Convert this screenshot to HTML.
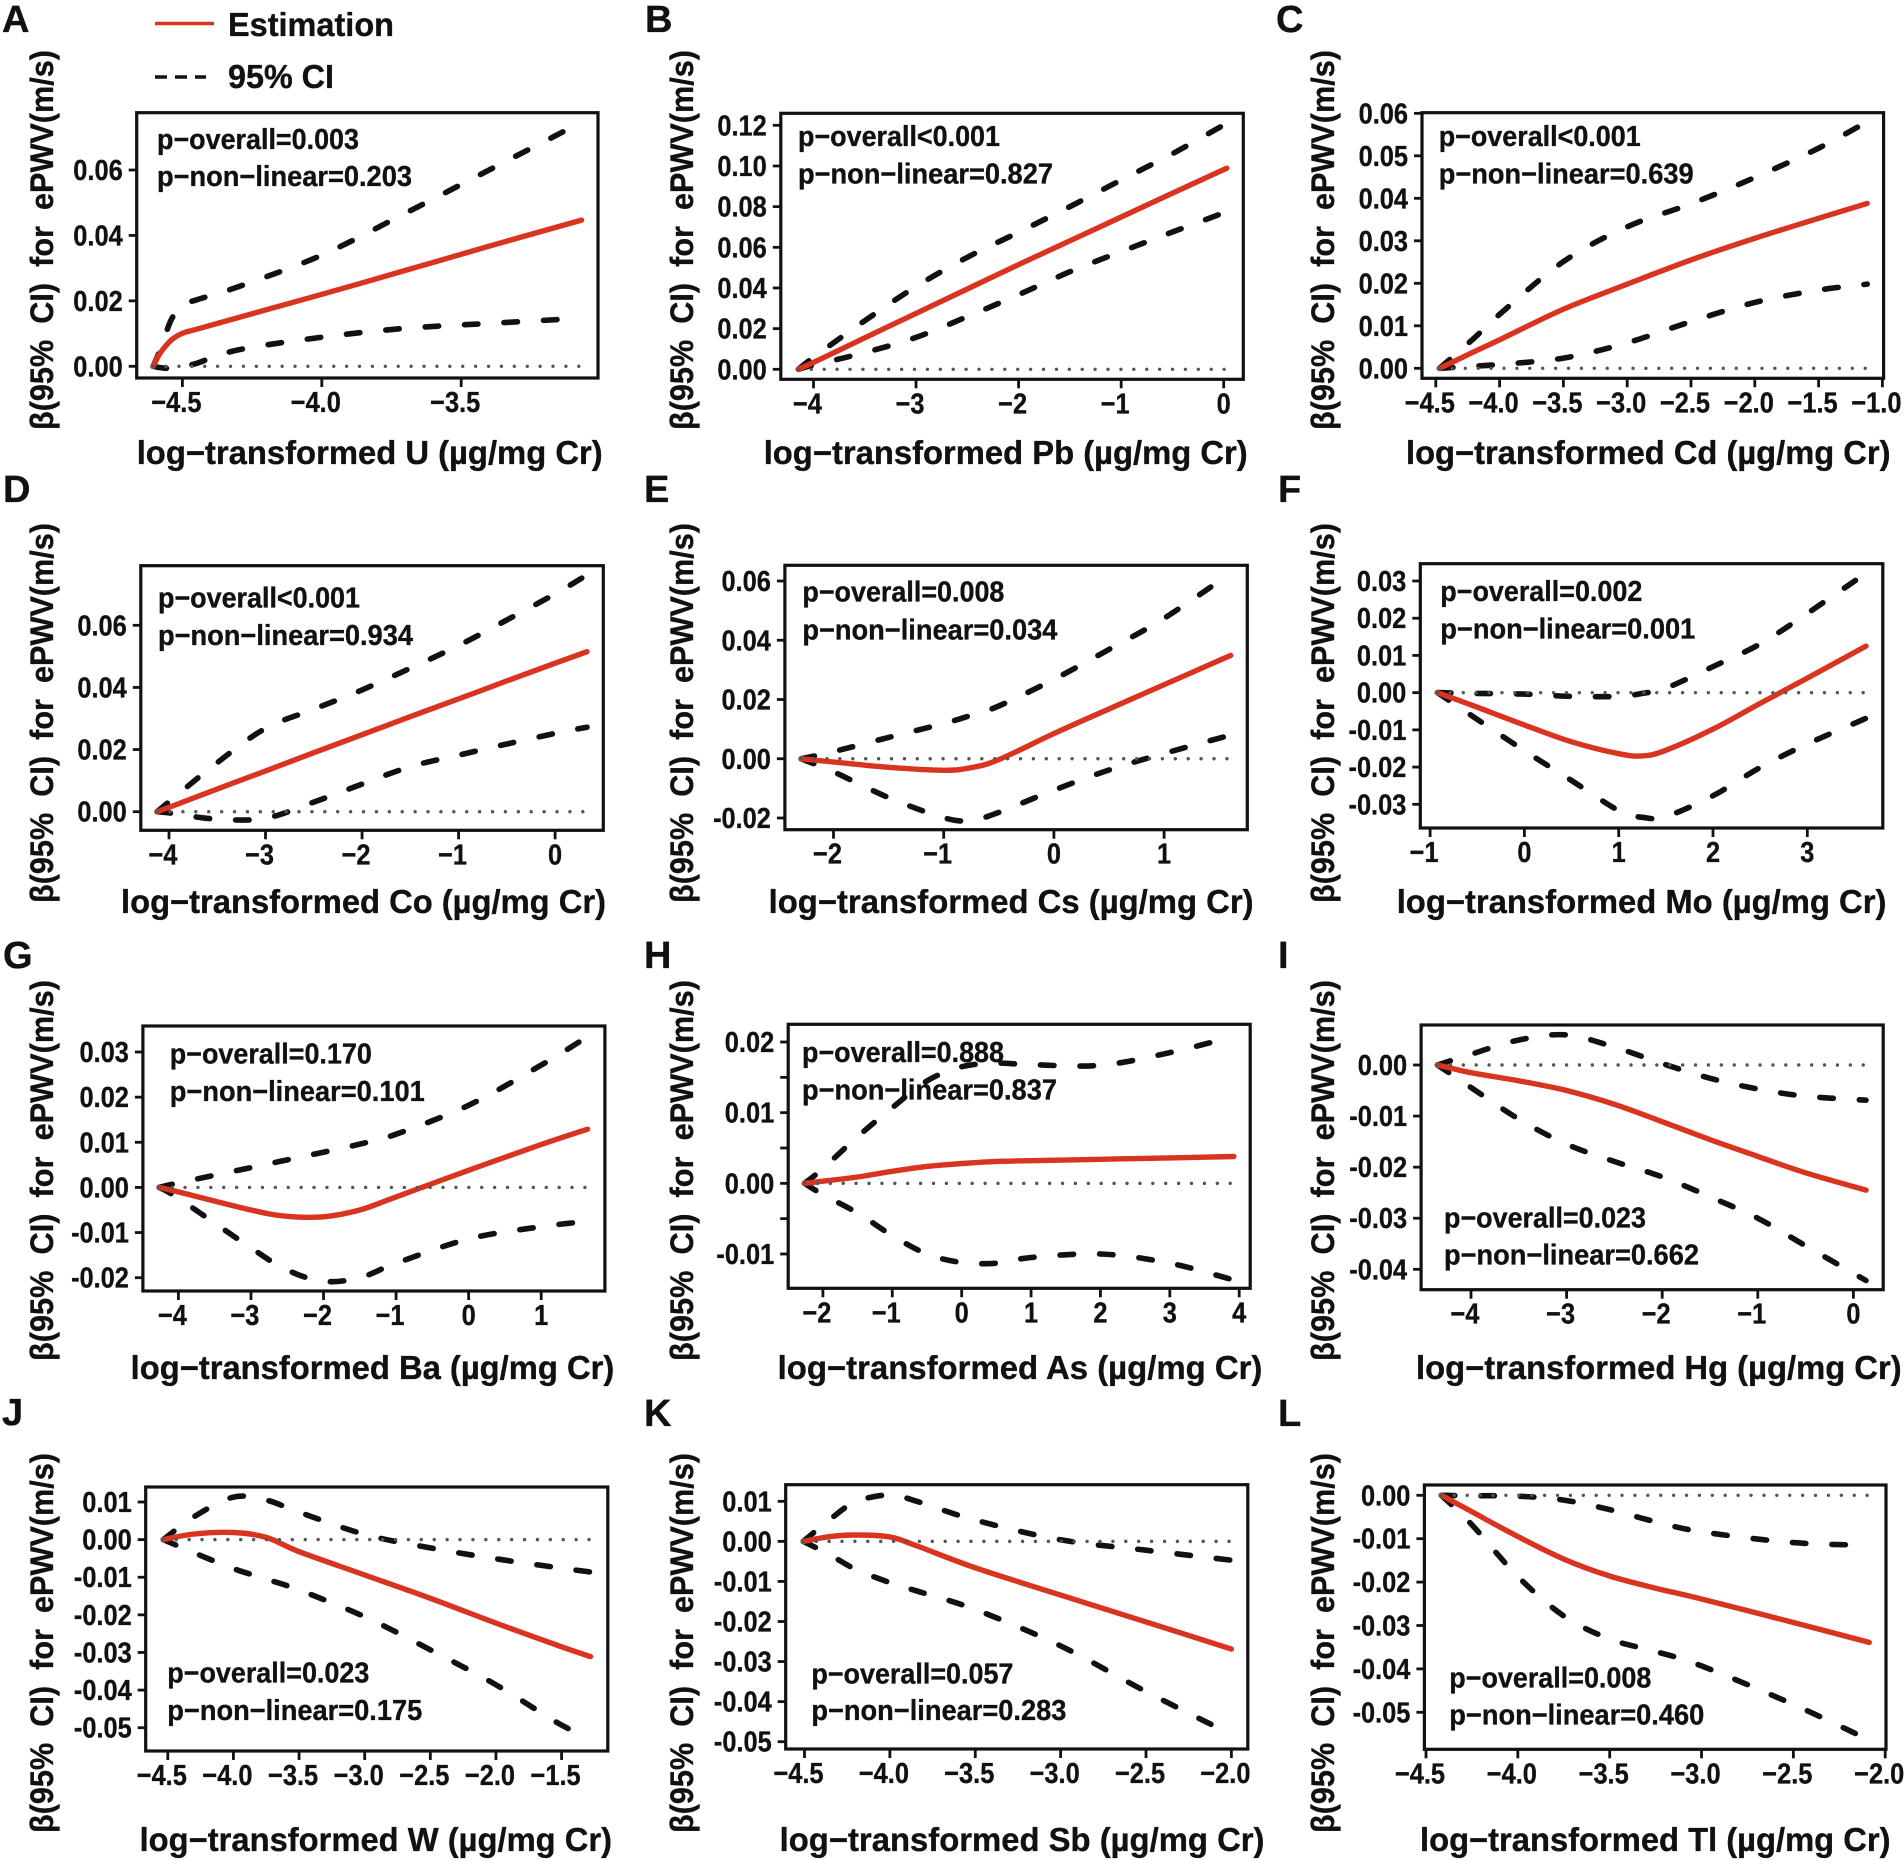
<!DOCTYPE html>
<html lang="en">
<head>
<meta charset="utf-8">
<title>Dose-response curves of urinary metals and ePWV</title>
<style>
html,body{margin:0;padding:0;background:#fff;}
svg{display:block;}
text{font-family:"Liberation Sans",Arial,sans-serif;font-weight:bold;fill:#111;stroke:#111;stroke-width:.35px;}
.letter{font-size:38px;}
.xt{font-size:33px;transform:translateY(1px);}
.yt{font-size:32.5px;}
.p{font-size:28.5px;transform:translateY(1px);}
.leg{font-size:33px;transform:translateY(1px);}
.tick{font-size:29px;}
.wide{word-spacing:8px;}
</style>
</head>
<body>
<svg id="figure" xmlns="http://www.w3.org/2000/svg" width="1904" height="1860" viewBox="0 0 1904 1860">
<rect width="1904" height="1860" fill="#fff"/>
<g>
  <line x1="155" y1="23.5" x2="214" y2="23.5" stroke="#d9341f" stroke-width="3.5"/>
  <text class="leg" x="228" y="35" textLength="166" lengthAdjust="spacingAndGlyphs">Estimation</text>
  <line x1="155" y1="77" x2="206" y2="77" stroke="#111" stroke-width="3.5" stroke-dasharray="12 8"/>
  <text class="leg" x="228" y="87" textLength="106" lengthAdjust="spacingAndGlyphs">95% CI</text>
</g>

<g id="panel-a">
  <text class="letter" x="2" y="32">A</text>
  <text class="yt wide" transform="translate(53,430) rotate(-90)" textLength="380" lengthAdjust="spacingAndGlyphs">β(95%&#160;CI) for ePWV(m/s)</text>
  <text class="xt" x="136.7" y="463" textLength="466" lengthAdjust="spacingAndGlyphs">log−transformed U (µg/mg Cr)</text>
  <text class="p" x="157" y="148" textLength="202" lengthAdjust="spacingAndGlyphs">p−overall=0.003</text>
  <text class="p" x="157" y="185" textLength="255" lengthAdjust="spacingAndGlyphs">p−non−linear=0.203</text>
</g>
<g id="panel-b">
  <text class="letter" x="645" y="32">B</text>
  <text class="yt wide" transform="translate(693,430) rotate(-90)" textLength="380" lengthAdjust="spacingAndGlyphs">β(95%&#160;CI) for ePWV(m/s)</text>
  <text class="xt" x="763.7" y="463" textLength="484" lengthAdjust="spacingAndGlyphs">log−transformed Pb (µg/mg Cr)</text>
  <text class="p" x="798" y="145" textLength="202" lengthAdjust="spacingAndGlyphs">p−overall&lt;0.001</text>
  <text class="p" x="798" y="182.7" textLength="255" lengthAdjust="spacingAndGlyphs">p−non−linear=0.827</text>
</g>
<g id="panel-c">
  <text class="letter" x="1276" y="32">C</text>
  <text class="yt wide" transform="translate(1334,430) rotate(-90)" textLength="380" lengthAdjust="spacingAndGlyphs">β(95%&#160;CI) for ePWV(m/s)</text>
  <text class="xt" x="1406" y="463" textLength="484.5" lengthAdjust="spacingAndGlyphs">log−transformed Cd (µg/mg Cr)</text>
  <text class="p" x="1438.7" y="145" textLength="202" lengthAdjust="spacingAndGlyphs">p−overall&lt;0.001</text>
  <text class="p" x="1438.7" y="182.3" textLength="255" lengthAdjust="spacingAndGlyphs">p−non−linear=0.639</text>
</g>
<g id="panel-d">
  <text class="letter" x="3" y="502">D</text>
  <text class="yt wide" transform="translate(53,903) rotate(-90)" textLength="380" lengthAdjust="spacingAndGlyphs">β(95%&#160;CI) for ePWV(m/s)</text>
  <text class="xt" x="121" y="912" textLength="485" lengthAdjust="spacingAndGlyphs">log−transformed Co (µg/mg Cr)</text>
  <text class="p" x="158" y="606.7" textLength="202" lengthAdjust="spacingAndGlyphs">p−overall&lt;0.001</text>
  <text class="p" x="158" y="644" textLength="255" lengthAdjust="spacingAndGlyphs">p−non−linear=0.934</text>
</g>
<g id="panel-e">
  <text class="letter" x="644" y="502">E</text>
  <text class="yt wide" transform="translate(693,903) rotate(-90)" textLength="380" lengthAdjust="spacingAndGlyphs">β(95%&#160;CI) for ePWV(m/s)</text>
  <text class="xt" x="768.6" y="912" textLength="485" lengthAdjust="spacingAndGlyphs">log−transformed Cs (µg/mg Cr)</text>
  <text class="p" x="802.4" y="600.7" textLength="202" lengthAdjust="spacingAndGlyphs">p−overall=0.008</text>
  <text class="p" x="802.4" y="638.3" textLength="255" lengthAdjust="spacingAndGlyphs">p−non−linear=0.034</text>
</g>
<g id="panel-f">
  <text class="letter" x="1278" y="502">F</text>
  <text class="yt wide" transform="translate(1334,903) rotate(-90)" textLength="380" lengthAdjust="spacingAndGlyphs">β(95%&#160;CI) for ePWV(m/s)</text>
  <text class="xt" x="1396.7" y="912" textLength="489.7" lengthAdjust="spacingAndGlyphs">log−transformed Mo (µg/mg Cr)</text>
  <text class="p" x="1440.3" y="600" textLength="202" lengthAdjust="spacingAndGlyphs">p−overall=0.002</text>
  <text class="p" x="1440.3" y="637.7" textLength="255" lengthAdjust="spacingAndGlyphs">p−non−linear=0.001</text>
</g>
<g id="panel-g">
  <text class="letter" x="3" y="968">G</text>
  <text class="yt wide" transform="translate(53,1361) rotate(-90)" textLength="381" lengthAdjust="spacingAndGlyphs">β(95%&#160;CI) for ePWV(m/s)</text>
  <text class="xt" x="130.6" y="1378" textLength="483.7" lengthAdjust="spacingAndGlyphs">log−transformed Ba (µg/mg Cr)</text>
  <text class="p" x="169.8" y="1062.7" textLength="202" lengthAdjust="spacingAndGlyphs">p−overall=0.170</text>
  <text class="p" x="169.8" y="1100" textLength="255" lengthAdjust="spacingAndGlyphs">p−non−linear=0.101</text>
</g>
<g id="panel-h">
  <text class="letter" x="644" y="968">H</text>
  <text class="yt wide" transform="translate(693,1361) rotate(-90)" textLength="381" lengthAdjust="spacingAndGlyphs">β(95%&#160;CI) for ePWV(m/s)</text>
  <text class="xt" x="777.6" y="1378" textLength="484.8" lengthAdjust="spacingAndGlyphs">log−transformed As (µg/mg Cr)</text>
  <text class="p" x="802" y="1061" textLength="202" lengthAdjust="spacingAndGlyphs">p−overall=0.888</text>
  <text class="p" x="802" y="1098.3" textLength="255" lengthAdjust="spacingAndGlyphs">p−non−linear=0.837</text>
</g>
<g id="panel-i">
  <text class="letter" x="1278" y="968">I</text>
  <text class="yt wide" transform="translate(1334,1361) rotate(-90)" textLength="381" lengthAdjust="spacingAndGlyphs">β(95%&#160;CI) for ePWV(m/s)</text>
  <text class="xt" x="1416" y="1378" textLength="485.6" lengthAdjust="spacingAndGlyphs">log−transformed Hg (µg/mg Cr)</text>
  <text class="p" x="1444" y="1226.7" textLength="202" lengthAdjust="spacingAndGlyphs">p−overall=0.023</text>
  <text class="p" x="1444" y="1263.3" textLength="255" lengthAdjust="spacingAndGlyphs">p−non−linear=0.662</text>
</g>
<g id="panel-j">
  <text class="letter" x="2" y="1425">J</text>
  <text class="yt wide" transform="translate(53,1833) rotate(-90)" textLength="380" lengthAdjust="spacingAndGlyphs">β(95%&#160;CI) for ePWV(m/s)</text>
  <text class="xt" x="139.6" y="1850" textLength="472.4" lengthAdjust="spacingAndGlyphs">log−transformed W (µg/mg Cr)</text>
  <text class="p" x="167.3" y="1681.7" textLength="202" lengthAdjust="spacingAndGlyphs">p−overall=0.023</text>
  <text class="p" x="167.3" y="1719" textLength="255" lengthAdjust="spacingAndGlyphs">p−non−linear=0.175</text>
</g>
<g id="panel-k">
  <text class="letter" x="644" y="1426">K</text>
  <text class="yt wide" transform="translate(693,1833) rotate(-90)" textLength="380" lengthAdjust="spacingAndGlyphs">β(95%&#160;CI) for ePWV(m/s)</text>
  <text class="xt" x="779.6" y="1850" textLength="484.9" lengthAdjust="spacingAndGlyphs">log−transformed Sb (µg/mg Cr)</text>
  <text class="p" x="811.4" y="1682.3" textLength="202" lengthAdjust="spacingAndGlyphs">p−overall=0.057</text>
  <text class="p" x="811.4" y="1719" textLength="255" lengthAdjust="spacingAndGlyphs">p−non−linear=0.283</text>
</g>
<g id="panel-l">
  <text class="letter" x="1278" y="1426">L</text>
  <text class="yt wide" transform="translate(1334,1833) rotate(-90)" textLength="380" lengthAdjust="spacingAndGlyphs">β(95%&#160;CI) for ePWV(m/s)</text>
  <text class="xt" x="1420" y="1850" textLength="470.5" lengthAdjust="spacingAndGlyphs">log−transformed Tl (µg/mg Cr)</text>
  <text class="p" x="1449.3" y="1686.7" textLength="202" lengthAdjust="spacingAndGlyphs">p−overall=0.008</text>
  <text class="p" x="1449.3" y="1723.3" textLength="255" lengthAdjust="spacingAndGlyphs">p−non−linear=0.460</text>
</g>
</svg>
<script>
// Panel A: U
const A_x   = [-4.605,-4.58,-4.54,-4.5,-4.45,-4.3,-4.0,-3.7,-3.4,-3.068];
const A_est = [0,.004,.008,.0101,.0113,.0149,.022,.0293,.0367,.0447];
const A_up  = [0,.005,.0142,.0187,.0203,.0243,.034,.0468,.06,.0746];
const A_low = [0,-.0004,-.0007,-.0003,.0009,.005,.0089,.0116,.0131,.0147];
const A_xt  = [-4.5,-4,-3.5];
const A_xl  = ['−4.5','−4.0','−3.5'];
const A_yt  = [0,.02,.04,.06];
const A_yl  = ['0.00','0.02','0.04','0.06'];
// Panel B: Pb
const B_x   = [-4.147,-4,-3.5,-3,-2.5,-2,-1.5,-1,-.5,.03];
const B_est = [0,.0034,.0155,.0275,.0395,.0515,.0632,.0749,.0866,.0989];
const B_up  = [0,.0059,.0239,.0407,.0551,.0674,.08,.0931,.106,.121];
const B_low = [0,.0021,.0082,.0157,.0259,.0367,.048,.0579,.0675,.0775];
const B_xt  = [-4,-3,-2,-1,0];
const B_xl  = ['−4','−3','−2','−1','0'];
const B_yt  = [0,.02,.04,.06,.08,.1,.12];
const B_yl  = ['0.00','0.02','0.04','0.06','0.08','0.10','0.12'];
// Panel C: Cd
const C_x   = [-4.471,-4.2,-4,-3.5,-3,-2.5,-2,-1.5,-1.119];
const C_est = [0,.0039,.0067,.0139,.0198,.0255,.0306,.0353,.0388];
const C_up  = [0,.0071,.0127,.0251,.0333,.0387,.0449,.0518,.058];
const C_low = [0,.0005,.0009,.0024,.006,.011,.0155,.0184,.0198];
const C_xt  = [-4.5,-4,-3.5,-3,-2.5,-2,-1.5,-1];
const C_xl  = ['−4.5','−4.0','−3.5','−3.0','−2.5','−2.0','−1.5','−1.0'];
const C_yt  = [0,.01,.02,.03,.04,.05,.06];
const C_yl  = ['0.00','0.01','0.02','0.03','0.04','0.05','0.06'];
// Panel D: Co
const D_x   = [-4.123,-4,-3.5,-3,-2.5,-2,-1.5,-1,-.5,0,.33];
const D_est = [0,.0014,.0073,.0131,.019,.0248,.0306,.0363,.0421,.0478,.0515];
const D_up  = [0,.0032,.0158,.0268,.033,.0392,.0462,.0535,.0617,.0701,.0762];
const D_low = [0,-.0004,-.0024,-.0021,.0031,.0089,.0145,.0182,.0218,.0252,.0272];
const D_xt  = [-4,-3,-2,-1,0];
const D_xl  = ['−4','−3','−2','−1','0'];
const D_yt  = [0,.02,.04,.06];
const D_yl  = ['0.00','0.02','0.04','0.06'];
// Panel E: Cs
const E_x   = [-2.293,-2,-1.5,-1,-.75,-.5,0,.5,1,1.604];
const E_est = [0,-.0011,-.0029,-.0039,-.003,-.0003,.0085,.0168,.025,.0349];
const E_up  = [0,.0024,.0072,.0119,.0147,.0178,.0268,.0369,.0474,.0626];
const E_low = [0,-.0044,-.0131,-.0199,-.0208,-.0181,-.0106,-.0038,.0018,.008];
const E_xt  = [-2,-1,0,1];
const E_xl  = ['−2','−1','0','1'];
const E_yt  = [-.02,0,.02,.04,.06];
const E_yl  = ['-0.02','0.00','0.02','0.04','0.06'];
// Panel F: Mo
const F_x   = [-.922,-.5,0,.5,1,1.25,1.5,2,2.5,3,3.623];
const F_est = [0,-.0039,-.0087,-.0132,-.0164,-.017,-.0155,-.0098,-.0029,.0039,.0125];
const F_up  = [0,-.0002,-.0004,-.001,-.001,-.0002,.0012,.007,.0131,.0213,.0321];
const F_low = [0,-.0072,-.0156,-.0236,-.0317,-.0335,-.0333,-.0277,-.0201,-.0138,-.0069];
const F_xt  = [-1,0,1,2,3];
const F_xl  = ['−1','0','1','2','3'];
const F_yt  = [-.03,-.02,-.01,0,.01,.02,.03];
const F_yl  = ['-0.03','-0.02','-0.01','0.00','0.01','0.02','0.03'];
// Panel G: Ba
const G_x   = [-4.264,-4,-3,-2.5,-2,-1.5,-1,0,1,1.64];
const G_est = [0,-.001,-.005,-.0064,-.0065,-.005,-.0021,.0038,.0095,.0129];
const G_up  = [0,.001,.0044,.0061,.0078,.0096,.0118,.0182,.0271,.0334];
const G_low = [0,-.0024,-.0134,-.0183,-.0208,-.02,-.0168,-.0114,-.0087,-.0075];
const G_xt  = [-4,-3,-2,-1,0,1];
const G_xl  = ['−4','−3','−2','−1','0','1'];
const G_yt  = [-.02,-.01,0,.01,.02,.03];
const G_yl  = ['-0.02','-0.01','0.00','0.01','0.02','0.03'];
// Panel H: As
const H_x   = [-2.265,-2,-1.5,-1,-.5,0,.5,1,2,3,3.924];
const H_est = [0,.0003,.0009,.0017,.0024,.0028,.0031,.0032,.0034,.0036,.0038];
const H_up  = [0,.0021,.0066,.0107,.0145,.0165,.017,.0168,.0167,.0185,.0208];
const H_low = [0,-.0016,-.0042,-.0074,-.01,-.0112,-.0113,-.0105,-.01,-.0113,-.0137];
const H_xt  = [-2,-1,0,1,2,3,4];
const H_xl  = ['−2','−1','0','1','2','3','4'];
const H_yt  = [-.01,-.005,0,.005,.01,.015,.02];
const H_yl  = ['-0.01','','0.00','','0.01','','0.02'];
// Panel I: Hg
const I_x   = [-4.35,-4,-3.5,-3,-2.5,-2,-1.5,-1,-.5,.132];
const I_est = [0,-.0015,-.0031,-.005,-.0077,-.0111,-.0146,-.0179,-.0211,-.0245];
const I_up  = [0,.0021,.0049,.0059,.0035,.0003,-.0026,-.0047,-.0061,-.0069];
const I_low = [0,-.0044,-.0106,-.0155,-.0189,-.0219,-.0258,-.03,-.0354,-.0422];
const I_xt  = [-4,-3,-2,-1,0];
const I_xl  = ['−4','−3','−2','−1','0'];
const I_yt  = [-.04,-.03,-.02,-.01,0];
const I_yl  = ['-0.04','-0.03','-0.02','-0.01','0.00'];
// Panel J: W
const J_x   = [-4.534,-4.3,-4,-3.75,-3.5,-3,-2.5,-2,-1.5,-1.28];
const J_est = [0,.0015,.0019,.0006,-.0032,-.0094,-.0156,-.0222,-.0285,-.0311];
const J_up  = [0,.0061,.0113,.0105,.0073,.0014,-.0022,-.0051,-.0076,-.0086];
const J_low = [0,-.0035,-.0077,-.0105,-.0134,-.0205,-.0293,-.0386,-.0493,-.0525];
const J_xt  = [-4.5,-4,-3.5,-3,-2.5,-2,-1.5];
const J_xl  = ['−4.5','−4.0','−3.5','−3.0','−2.5','−2.0','−1.5'];
const J_yt  = [-.05,-.04,-.03,-.02,-.01,0,.01];
const J_yl  = ['-0.05','-0.04','-0.03','-0.02','-0.01','0.00','0.01'];
// Panel K: Sb
const K_x   = [-4.507,-4.35,-4.2,-4,-3.85,-3.5,-3,-2.5,-2];
const K_est = [0,.0012,.0016,.0011,-.001,-.0066,-.0134,-.0201,-.0269];
const K_up  = [0,.0055,.0099,.0116,.0101,.0053,.0004,-.0022,-.0047];
const K_low = [0,-.0034,-.007,-.0103,-.0123,-.017,-.0261,-.0375,-.0482];
const K_xt  = [-4.5,-4,-3.5,-3,-2.5,-2];
const K_xl  = ['−4.5','−4.0','−3.5','−3.0','−2.5','−2.0'];
const K_yt  = [-.05,-.04,-.03,-.02,-.01,0,.01];
const K_yl  = ['-0.05','-0.04','-0.03','-0.02','-0.01','0.00','0.01'];
// Panel L: Tl
const L_x   = [-4.416,-4.25,-4,-3.75,-3.5,-3.25,-3,-2.5,-2.087];
const L_est = [0,-.0038,-.0095,-.0147,-.0186,-.0214,-.0239,-.0293,-.0339];
const L_up  = [0,-.0001,-.0002,-.0011,-.0033,-.0061,-.0084,-.0109,-.0115];
const L_low = [0,-.0068,-.0187,-.0278,-.0331,-.036,-.0393,-.0482,-.0564];
const L_xt  = [-4.5,-4,-3.5,-3,-2.5,-2];
const L_xl  = ['−4.5','−4.0','−3.5','−3.0','−2.5','−2.0'];
const L_yt  = [-.05,-.04,-.03,-.02,-.01,0];
const L_yl  = ['-0.05','-0.04','-0.03','-0.02','-0.01','0.00'];

const NS = 'http://www.w3.org/2000/svg';
const RED = '#d9341f';

function mk(tag, attrs, parent) {
  const el = document.createElementNS(NS, tag);
  for (const k in attrs) el.setAttribute(k, attrs[k]);
  parent.appendChild(el);
  return el;
}
function linear(d0, p0, d1, p1) {
  return v => p0 + (v - d0) * (p1 - p0) / (d1 - d0);
}
function condense(el) {
  el.setAttribute('textLength', (el.getComputedTextLength() * 0.875).toFixed(1));
  el.setAttribute('lengthAdjust', 'spacingAndGlyphs');
}
function smoothPath(xs, ys, sx, sy) {
  const pts = xs.map((x, i) => [sx(x), sy(ys[i])]);
  let d = 'M' + pts[0][0].toFixed(1) + ' ' + pts[0][1].toFixed(1);
  for (let i = 0; i < pts.length - 1; i++) {
    const p0 = pts[Math.max(i - 1, 0)], p1 = pts[i], p2 = pts[i + 1], p3 = pts[Math.min(i + 2, pts.length - 1)];
    const c1x = p1[0] + (p2[0] - p0[0]) / 6, c1y = p1[1] + (p2[1] - p0[1]) / 6;
    const c2x = p2[0] - (p3[0] - p1[0]) / 6, c2y = p2[1] - (p3[1] - p1[1]) / 6;
    d += 'C' + c1x.toFixed(1) + ' ' + c1y.toFixed(1) + ' ' + c2x.toFixed(1) + ' ' + c2y.toFixed(1) + ' ' + p2[0].toFixed(1) + ' ' + p2[1].toFixed(1);
  }
  return d;
}
function drawPanel(id, x, est, up, low, xt, xl, yt, yl, frame, xCal, yCal) {
  const g = document.getElementById('panel-' + id);
  const [L, T, R, B] = frame;
  const sx = linear(xCal[0], xCal[1], xCal[2], xCal[3]);
  const sy = linear(yCal[0], yCal[1], yCal[2], yCal[3]);

  xt.forEach((v, i) => {
    const tick = mk('line', {x1: sx(v), x2: sx(v), y1: B, y2: B + 9, stroke: '#111', 'stroke-width': 2.8}, g);
    
    
    const shift = v < 0 ? -6 : 0;
    const label = mk('text', {x: sx(v) + shift, y: B + 34, 'text-anchor': 'middle', class: 'tick'}, g);
    
    
    label.textContent = xl[i];
    condense(label);
  });
  yt.forEach((v, i) => {
    const tick = mk('line', {x1: L - 8, x2: L, y1: sy(v), y2: sy(v), stroke: '#111', 'stroke-width': 2.8}, g);
    
    
    if (yl[i]) {
      const label = mk('text', {x: L - 14, y: sy(v) + 10, 'text-anchor': 'end', class: 'tick'}, g);
      
      
      label.textContent = yl[i];
      condense(label);
    }
  });

  const upper = mk('path', {d: smoothPath(x, up, sx, sy), fill: 'none', stroke: '#111', 'stroke-width': 5.6, 'stroke-linecap': 'round', 'stroke-dasharray': '13.5 26'}, g);
  
  
  const lower = mk('path', {d: smoothPath(x, low, sx, sy), fill: 'none', stroke: '#111', 'stroke-width': 5.6, 'stroke-linecap': 'round', 'stroke-dasharray': '13.5 26'}, g);
  
  
  const estimate = mk('path', {d: smoothPath(x, est, sx, sy), fill: 'none', stroke: RED, 'stroke-width': 5.4, 'stroke-linecap': 'round'}, g);
  
  
  const zero = mk('line', {x1: sx(x[0]), x2: sx(x[x.length - 1]), y1: sy(0), y2: sy(0), stroke: '#555', 'stroke-width': 3.4, 'stroke-linecap': 'round', 'stroke-dasharray': '0 12.9'}, g);
  
  

  const box = mk('rect', {x: L, y: T, width: R - L, height: B - T, fill: 'none', stroke: '#111', 'stroke-width': 3.2}, g);
  
  
}

drawPanel('a', A_x, A_est, A_up, A_low, A_xt, A_xl, A_yt, A_yl, [136.7,112.7,598,378], [-4.5,182.4,-3.5,461.2], [0,366.3,.06,170]);
drawPanel('b', B_x, B_est, B_up, B_low, B_xt, B_xl, B_yt, B_yl, [780.8,113.3,1243.3,379.3], [-4,813.5,0,1223.7], [0,369.3,.12,125.3]);
drawPanel('c', C_x, C_est, C_up, C_low, C_xt, C_xl, C_yt, C_yl, [1422,112.7,1883.6,378.3], [-4.5,1435.8,-1,1882.4], [0,368.3,.06,113.3]);
drawPanel('d', D_x, D_est, D_up, D_low, D_xt, D_xl, D_yt, D_yl, [140.8,565.7,603.3,830.3], [-4,169,0,555.1], [0,811.7,.06,625.3]);
drawPanel('e', E_x, E_est, E_up, E_low, E_xt, E_xl, E_yt, E_yl, [784.9,565.3,1247.3,829.7], [-2,833.5,1,1164.1], [-.02,818,.06,581]);
drawPanel('f', F_x, F_est, F_up, F_low, F_xt, F_xl, F_yt, F_yl, [1420.3,563.7,1882.8,828], [-1,1430.1,3,1807.3], [-.03,804.3,.03,581]);
drawPanel('g', G_x, G_est, G_up, G_low, G_xt, G_xl, G_yt, G_yl, [142.9,1026,604.9,1291], [-4,178.4,1,541.2], [-.02,1277.7,.03,1052]);
drawPanel('h', H_x, H_est, H_up, H_low, H_xt, H_xl, H_yt, H_yl, [788.2,1024.3,1250.2,1288.3], [-2,822.9,4,1239.2], [-.01,1254,.02,1042]);
drawPanel('i', I_x, I_est, I_up, I_low, I_xt, I_xl, I_yt, I_yl, [1421.1,1025,1883.2,1289.7], [-4,1471,0,1853.4], [-.04,1269.3,0,1065]);
drawPanel('j', J_x, J_est, J_up, J_low, J_xt, J_xl, J_yt, J_yl, [145.7,1487,607.8,1751], [-4.5,167.8,-1.5,561.6], [-.05,1727.7,.01,1502]);
drawPanel('k', K_x, K_est, K_up, K_low, K_xt, K_xl, K_yt, K_yl, [785.7,1484.7,1247.8,1749], [-4.5,804.5,-2,1231.4], [-.05,1741.7,.01,1501.3]);
drawPanel('l', L_x, L_est, L_up, L_low, L_xt, L_xl, L_yt, L_yl, [1424.4,1485,1886,1749.3], [-4.5,1426,-2,1885.2], [-.05,1712.3,0,1495.3]);
</script>
</body>
</html>
